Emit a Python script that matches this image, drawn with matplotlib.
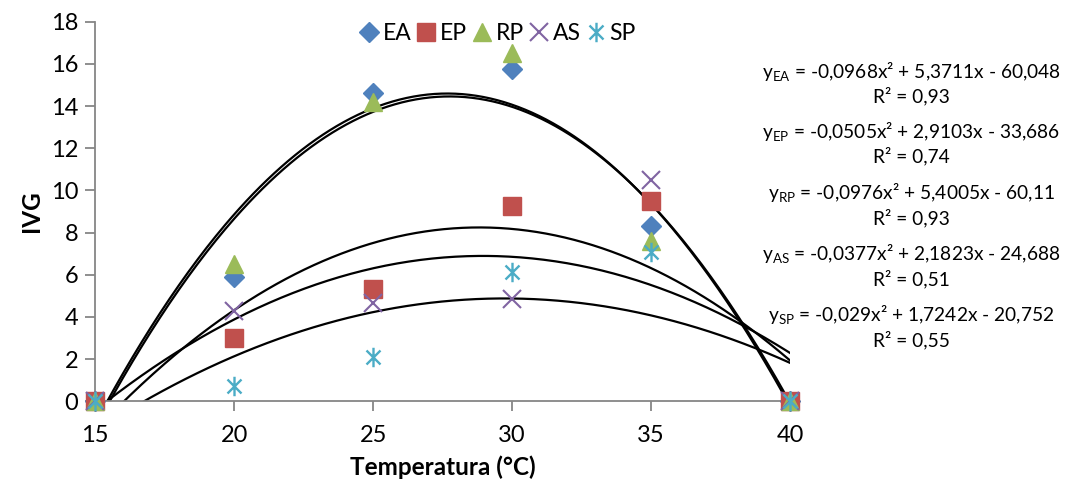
import numpy as np
import matplotlib
matplotlib.use('Agg')
import matplotlib.pyplot as plt
from matplotlib.path import Path

plt.rcParams['font.family'] = ['Lato', 'DejaVu Sans']
plt.rcParams['mathtext.fontset'] = 'custom'
plt.rcParams['mathtext.rm'] = 'Lato'

# dados
temp = [15, 20, 25, 30, 35, 40]
EA = [0, 5.9, 14.6, 15.75, 8.3, 0]
EP = [0, 3.0, 5.33, 9.25, 9.5, 0]
RP = [0, 6.5, 14.2, 16.5, 7.6, 0]
AS = [0, 4.3, 4.67, 4.86, 10.5, 0]
SP = [0, 0.7, 2.1, 6.14, 7.1, 0]

# coeficientes das linhas de tendência (polinomial 2a ordem)
coef_EA = [-0.0968, 5.3711, -60.048]
coef_EP = [-0.0505, 2.9103, -33.686]
coef_RP = [-0.0976, 5.4005, -60.11]
coef_AS = [-0.0377, 2.1823, -24.688]
coef_SP = [-0.029, 1.7242, -20.752]

eq_txt = ['$\\mathregular{y_{EA}}$ = -0,0968x² + 5,3711x - 60,048\nR² = 0,93',
          '$\\mathregular{y_{EP}}$ = -0,0505x² + 2,9103x - 33,686\nR² = 0,74',
          '$\\mathregular{y_{RP}}$ = -0,0976x² + 5,4005x - 60,11\nR² = 0,93',
          '$\\mathregular{y_{AS}}$ = -0,0377x² + 2,1823x - 24,688\nR² = 0,51',
          '$\\mathregular{y_{SP}}$ = -0,029x² + 1,7242x - 20,752\nR² = 0,55']

star = Path([(0, -1), (0, 1), (-0.72, -0.72), (0.72, 0.72), (-0.72, 0.72), (0.72, -0.72)],
            [Path.MOVETO, Path.LINETO, Path.MOVETO, Path.LINETO, Path.MOVETO, Path.LINETO])

fig = plt.figure(figsize=(10.81, 4.84), dpi=100)
ax = fig.add_axes([0.088, 0.171, 0.643, 0.784])

xx = np.linspace(15, 40, 300)
for c in [coef_EA, coef_EP, coef_RP, coef_AS, coef_SP]:
    ax.plot(xx, np.polyval(c, xx), color='black', lw=1.6, zorder=2)

ax.plot(temp, EA, ls='none', marker='D', ms=10, color='#4F81BD', label='EA', clip_on=False, zorder=3)
ax.plot(temp, EP, ls='none', marker='s', ms=12.5, color='#C0504D', label='EP', clip_on=False, zorder=3)
ax.plot(temp, RP, ls='none', marker='^', ms=13, color='#9BBB59', label='RP', clip_on=False, zorder=3)
ax.plot(temp, AS, ls='none', marker='x', ms=13, mew=1.5, color='#8064A2', label='AS', clip_on=False, zorder=3)
ax.plot(temp, SP, ls='none', marker=star, ms=14, mew=1.7, color='#4BACC6', label='SP', clip_on=False, zorder=3)

ax.set_xlim(15, 40)
ax.set_ylim(0, 18)
ax.set_xticks(range(15, 41, 5))
ax.set_yticks(range(0, 19, 2))
for s in ['top', 'right']:
    ax.spines[s].set_visible(False)
for s in ['left', 'bottom']:
    ax.spines[s].set_color('#868686')
    ax.spines[s].set_linewidth(1.3)
ax.tick_params(direction='out', length=7, width=1.3, color='#868686', labelsize=17, pad=5)
ax.tick_params(axis='x', pad=10)
ax.set_xlabel('Temperatura (°C)', fontsize=17.5, fontweight='bold', labelpad=7)
ax.set_ylabel('IVG', fontsize=17.5, fontweight='bold', labelpad=6)

fig.legend(loc='center', bbox_to_anchor=(0.46, 0.93), ncol=5, frameon=False, fontsize=16.5,
           handlelength=0.9, handletextpad=0.15, columnspacing=0.2, borderaxespad=0)

ys = [0.83, 0.705, 0.578, 0.452, 0.326]
for t, y in zip(eq_txt, ys):
    fig.text(0.843, y, t, ha='center', va='center', fontsize=13.8, linespacing=1.25)

fig.savefig('out.png', dpi=100)
